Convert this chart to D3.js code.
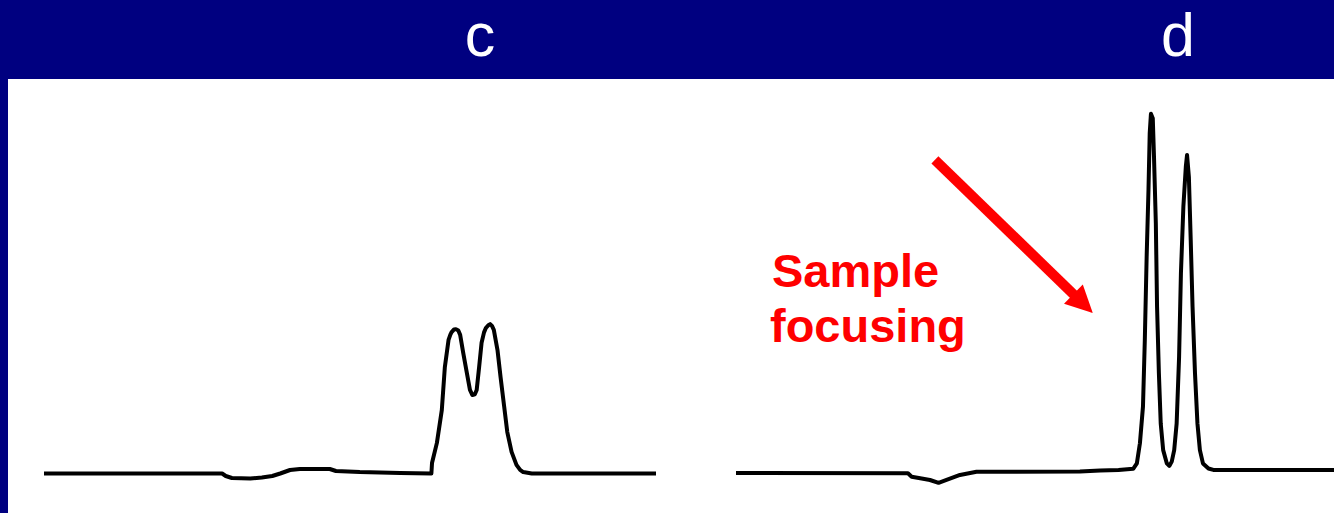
<!DOCTYPE html>
<html>
<head>
<meta charset="utf-8">
<script src="https://cdn.jsdelivr.net/npm/d3@7/dist/d3.min.js"></script>
<style>
  html, body { margin: 0; padding: 0; background: #000080; }
  svg { display: block; }
</style>
</head>
<body>
<svg id="chart" width="1334" height="513"></svg>
<script>
// Panel labels
const panelLabels = ["c", "d"];

// Electropherogram c: time (min) and detector signal (mAU)
const timeC = [0.00, 2.91, 2.97, 3.07, 3.37, 3.56, 3.73, 3.86, 4.02, 4.18, 4.67, 4.77, 5.16, 5.82,
  6.33, 6.34, 6.42, 6.50, 6.55, 6.61, 6.64, 6.66, 6.70, 6.73, 6.77, 6.80, 6.85, 6.91, 6.96, 7.00,
  7.04, 7.07, 7.11, 7.15, 7.19, 7.22, 7.26, 7.29, 7.32, 7.35, 7.41, 7.46, 7.52, 7.57, 7.64, 7.72,
  7.78, 7.83, 7.97, 10.00];
const signalC = [0, 0, -0.7, -1.25, -1.4, -1.1, -0.7, 0, 0.97, 1.25, 1.25, 0.7, 0.4, 0.15,
  0, 2.9, 8.5, 17.6, 29.6, 37.1, 38.6, 39.3, 40.0, 40.1, 39.7, 38.5, 33.5, 27.9, 23.2, 21.8,
  22.0, 23.2, 29.6, 36.3, 39.2, 40.4, 41.2, 41.5, 41.0, 39.9, 34.3, 26.8, 18.5, 11.5, 6.0, 2.4,
  1.0, 0.4, 0, 0];

// Electropherogram d (with sample focusing)
const timeD = [0.00, 2.81, 2.87, 3.01, 3.17, 3.31, 3.44, 3.66, 3.93, 5.62, 5.95, 6.25, 6.49, 6.55,
  6.60, 6.65, 6.68, 6.71, 6.74, 6.76, 6.78, 6.81, 6.83, 6.86, 6.88, 6.91, 6.94, 6.98, 7.04, 7.08,
  7.12, 7.16, 7.20, 7.24, 7.27, 7.31, 7.35, 7.37, 7.40, 7.43, 7.46, 7.50, 7.54, 7.58, 7.63, 7.72,
  7.80, 10.00];
const signalD = [0.15, 0.05, -0.9, -1.3, -1.8, -2.6, -1.8, -0.4, 0.5, 0.55, 0.85, 1.0, 1.3, 2.8,
  8.4, 18.6, 37.1, 60.2, 78.8, 94.5, 99.9, 98.7, 88.0, 69.5, 46.3, 27.8, 13.9, 6.5, 2.8, 2.1,
  3.3, 6.5, 13.9, 32.4, 55.6, 74.1, 85.2, 88.5, 82.4, 64.9, 46.3, 27.8, 13.9, 6.5, 2.8, 1.4,
  1.0, 1.0];

// Annotation on panel d: label lines, arrow tail and head in data units
const noteLines = ["Sample", "focusing"];
const arrowTail = [3.25, 87.1];
const arrowHead = [5.83, 44.6];

const W = 1334, H = 513;
const bandH = 79, sideW = 8;

const svg = d3.select("#chart");

// Navy frame and white plotting area
svg.append("rect").attr("x", 0).attr("y", 0).attr("width", W).attr("height", H).attr("fill", "#000080");
svg.append("rect").attr("x", sideW).attr("y", bandH).attr("width", W - sideW).attr("height", H - bandH).attr("fill", "#ffffff");

const clip = svg.append("defs").append("clipPath").attr("id", "plotClip");
clip.append("rect").attr("x", sideW).attr("y", bandH).attr("width", W - sideW).attr("height", H - bandH);

const panels = [
  { label: panelLabels[0], x0: 44, time: timeC, signal: signalC, labelX: 480 },
  { label: panelLabels[1], x0: 736, time: timeD, signal: signalD, labelX: 1178 }
];
const panelW = 612;

const y = d3.scaleLinear().domain([0, 100]).range([473.5, 113.5]);

const plot = svg.append("g").attr("clip-path", "url(#plotClip)");

panels.forEach((p, i) => {
  const x = d3.scaleLinear().domain([0, 10]).range([p.x0, p.x0 + panelW]);
  p.x = x;
  const pts = p.time.map((t, k) => [t, p.signal[k]]);
  const line = d3.line().x(d => x(d[0])).y(d => y(d[1])).curve(d3.curveLinear);
  plot.append("path")
    .datum(pts)
    .attr("d", line)
    .attr("fill", "none")
    .attr("stroke", "#000")
    .attr("stroke-width", 4)
    .attr("stroke-linejoin", "round");

  svg.append("text")
    .attr("x", p.labelX)
    .attr("y", 56)
    .attr("text-anchor", "middle")
    .attr("fill", "#ffffff")
    .style("font-family", "'Liberation Sans', Arial, sans-serif")
    .style("font-size", "61px")
    .text(p.label);
});

// Arrow pointing at the focused peaks
const xd = panels[1].x;
const tx = xd(arrowTail[0]), ty = y(arrowTail[1]);
const hx = xd(arrowHead[0]), hy = y(arrowHead[1]);
const ang = Math.atan2(hy - ty, hx - tx);
const headLen = 27, headHalf = 13.5;
const bx = hx - headLen * Math.cos(ang), by = hy - headLen * Math.sin(ang);
svg.append("line")
  .attr("x1", tx).attr("y1", ty).attr("x2", bx + 2 * Math.cos(ang)).attr("y2", by + 2 * Math.sin(ang))
  .attr("stroke", "#ff0000").attr("stroke-width", 10);
svg.append("path")
  .attr("d", d3.line()([
    [hx, hy],
    [bx + headHalf * Math.sin(ang), by - headHalf * Math.cos(ang)],
    [bx - headHalf * Math.sin(ang), by + headHalf * Math.cos(ang)]
  ]) + "Z")
  .attr("fill", "#ff0000");

const note = svg.append("text")
  .attr("fill", "#ff0000")
  .style("font-family", "'Liberation Sans', Arial, sans-serif")
  .style("font-size", "47px")
  .style("font-weight", "bold");
note.selectAll("tspan")
  .data(noteLines)
  .join("tspan")
  .attr("x", (d, i) => i === 0 ? 772 : 770)
  .attr("y", (d, i) => 287 + i * 55)
  .text(d => d);
</script>
</body>
</html>
